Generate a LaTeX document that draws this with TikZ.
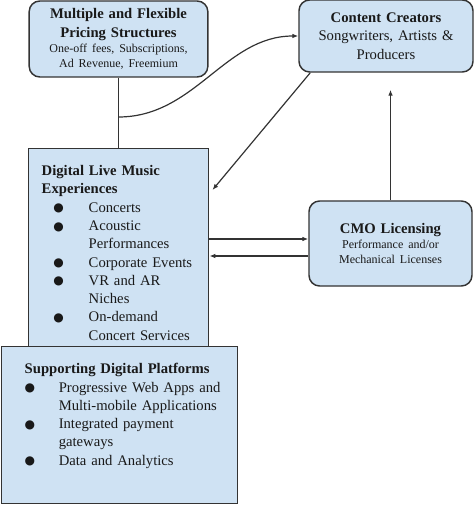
\documentclass[tikz,border=0pt]{standalone}
\usepackage{fontspec}
\setmainfont{Liberation Serif}
\newfontfamily\symfont{DejaVu Sans}
\usepackage{tikz}
\usetikzlibrary{arrows.meta}
\usepackage{xcolor}

\definecolor{boxblue}{HTML}{CFE2F3}
\definecolor{edgegray}{HTML}{333333}
\newcommand{\itemfont}{\fontsize{11}{13.7}\selectfont}
\newcommand{\subfont}{\fontsize{9}{11.3}\selectfont}
\newcommand{\dotmark}{\makebox[0pt]{\raisebox{0.3pt}{\symfont\fontsize{9}{9}\selectfont ●}}}

\begin{document}
\begin{tikzpicture}[x=0.75pt, y=-0.75pt,
  % Node Styles
  rbox/.style={rectangle, rounded corners=8pt, draw=edgegray, line width=1.1pt, fill=boxblue, text=black!90, font=\itemfont, align=center, inner sep=0pt},
  sqbox/.style={rectangle, draw=edgegray, line width=1.1pt, fill=boxblue, text=black!90, font=\itemfont, align=left, anchor=north west, inner sep=0pt},
  % Arrow Styles
  solidarrow/.style={-{Latex[length=4.5pt,width=3.5pt]}, line width=0.9pt, edgegray},
  plainline/.style={line width=0.9pt, edgegray}
]
\useasboundingbox (0,0) rectangle (474,505);

% Boxes
\node[rbox, minimum width=134pt, minimum height=57pt, text width=130pt] (pricing) at (118.5,39)
  {{\bfseries Multiple and Flexible\\Pricing Structures\par}{\subfont One-off fees, Subscriptions,\\Ad Revenue, Freemium\par}};
\node[rbox, minimum width=130.5pt, minimum height=54pt, text width=126pt] (creators) at (386,36)
  {{\bfseries Content Creators}\\Songwriters, Artists \&\\Producers};
\node[rbox, minimum width=122.25pt, minimum height=63.75pt, text width=118pt] (cmo) at (390.5,243.5)
  {{\bfseries CMO Licensing\par}{\subfont Performance and/or\\Mechanical Licenses\par}};

\node[sqbox, text width=135pt, text height=20.25pt, text depth=131pt] (live) at (28,148)
  {\begin{tabular}[t]{@{\hspace{22.5pt}}c@{\hspace{22.5pt}}l@{}}
   \multicolumn{2}{@{\hspace{9.75pt}}l@{}}{\bfseries Digital Live Music}\\
   \multicolumn{2}{@{\hspace{9.75pt}}l@{}}{\bfseries Experiences}\\
   \dotmark & Concerts\\
   \dotmark & Acoustic\\
            & Performances\\
   \dotmark & Corporate Events\\
   \dotmark & VR and AR\\
            & Niches\\
   \dotmark & On-demand\\
            & Concert Services
   \end{tabular}};

\node[sqbox, text width=177pt, text height=20.25pt, text depth=97.5pt] (platforms) at (0.5,346)
  {\begin{tabular}[t]{@{\hspace{21.4pt}}c@{\hspace{21.75pt}}l@{}}
   \multicolumn{2}{@{\hspace{17.6pt}}l@{}}{\bfseries Supporting Digital Platforms}\\
   \dotmark & Progressive Web Apps and\\
            & Multi-mobile Applications\\
   \dotmark & Integrated payment\\
            & gateways\\
   \dotmark & Data and Analytics
   \end{tabular}};

% Connectors
\coordinate (fork) at (118.5,117);
\coordinate (upper) at ([shift={(0,-4.5)}]cmo.west);
\coordinate (lower) at ([shift={(0,12.5)}]cmo.west);

\draw[plainline] (pricing.south) -- (pricing.south |- live.north);
\draw[solidarrow] (fork) .. controls (195,117) and (225,36) .. (creators.west);
\draw[solidarrow] ([shift={(12,0)}]creators.south west) -- ([shift={(3,42)}]live.north east);
\draw[solidarrow, shorten >=12.75pt] (cmo.north) -- (cmo.north |- creators.south);
\draw[solidarrow] (live.east |- upper) -- (upper);
\draw[solidarrow] (lower) -- (live.east |- lower);

\end{tikzpicture}
\end{document}
